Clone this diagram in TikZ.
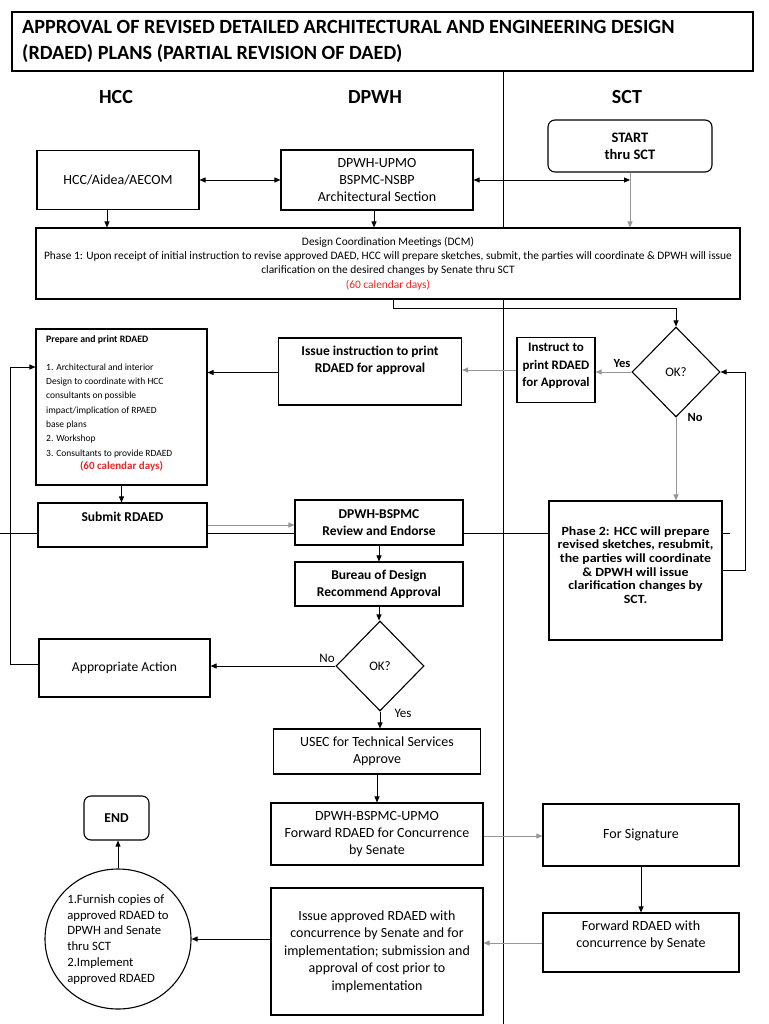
\documentclass[tikz,border=0pt]{standalone}
\usepackage{fontspec}
\setmainfont{Carlito}
\newfontfamily\widefont{Carlito}[FakeStretch=1.11]
\usetikzlibrary{shapes.geometric,arrows.meta}
\definecolor{redt}{RGB}{235,40,40}
\definecolor{gline}{RGB}{150,150,150}
\newcommand\myfs[2]{\fontsize{#1}{#2}\selectfont}
\tikzset{
  ln/.style={draw=black, line width=0.9pt},
  bx/.style={draw=black, line width=1.1pt, fill=white, inner sep=0pt, align=center, font=\myfs{14}{17}},
  bxb/.style={bx, font=\bfseries\myfs{13.5}{17}},
  rbx/.style={bx, rounded corners=7pt},
  dia/.style={draw=black, line width=1.1pt, fill=white, diamond, inner sep=0pt, font=\myfs{13}{15}},
  ell/.style={draw=black, line width=1.1pt, fill=white, ellipse, inner sep=0pt},
  txt/.style={inner sep=0pt, align=center, font=\myfs{14}{17}},
  txtb/.style={txt, font=\bfseries\myfs{13.5}{17}},
  hdr/.style={inner sep=0pt, font=\bfseries\myfs{20}{22}},
  arr/.style={-{Triangle[length=6pt,width=5pt]}, line width=0.9pt, draw=black},
  darr/.style={{Triangle[length=6pt,width=5pt]}-{Triangle[length=6pt,width=5pt]}, line width=0.9pt, draw=black},
  garr/.style={arr, draw=gline},
  lbl/.style={inner sep=0pt, font=\myfs{13}{15}},
}
\begin{document}
\begin{tikzpicture}[x=1pt,y=-1pt]
\useasboundingbox (0,0) rectangle (768,1024);
\fill[white] (0,0) rectangle (768,1024);
% background lines
\coordinate (dv0) at (503,71);
\coordinate (dv1) at (503,1024);
\draw[ln] (dv0) -- (dv1);
\coordinate (hl0) at (0,533);
\coordinate (hl1) at (730,533);
\draw[ln] (hl0) -- (hl1);

% title
\node[bx, minimum width=741, minimum height=59] (title) at (382.5,41.5) {};
\node[inner sep=0pt, anchor=west, font=\bfseries\myfs{20.2}{22}] (t1) at (22,27) {APPROVAL OF REVISED DETAILED ARCHITECTURAL AND ENGINEERING DESIGN};
\node[inner sep=0pt, anchor=west, font=\bfseries\myfs{20.2}{22}] (t2) at (22,54) {(RDAED) PLANS (PARTIAL REVISION OF DAED)};

% headers
\node[hdr] (hHCC) at (116,97) {HCC};
\node[hdr] (hDPWH) at (375,97) {DPWH};
\node[hdr] (hSCT) at (627,97) {SCT};

% top row
\node[rbx, font=\bfseries\myfs{14.5}{17}, minimum width=164, minimum height=52] (start) at (630,146) {START\\thru SCT};
\node[bx, minimum width=162, minimum height=59] (hcc) at (118,180) {HCC/Aidea/AECOM};
\node[bx, minimum width=192, minimum height=60] (upmo) at (377,180) {DPWH-UPMO\\BSPMC-NSBP\\Architectural Section};

% DCM
\node[bx, minimum width=704, minimum height=71, font=\myfs{11.4}{14.4}] (dcm) at (388,263.5) {Design Coordination Meetings (DCM)\\
Phase 1: Upon receipt of initial instruction to revise approved DAED, HCC will prepare sketches, submit, the parties will coordinate \& DPWH will issue\\
clarification on the desired changes by Senate thru SCT\\
\textcolor{redt}{(60 calendar days)}};

% second row
\node[dia, minimum width=88, minimum height=90] (ok1) at (676,372) {OK?};
\node[bx, minimum width=78, minimum height=65] (instr) at (556,370) {};
\node[txtb, font=\bfseries\myfs{13}{17.5}] (instrt) at (556,366) {Instruct to\\print RDAED\\for Approval};
\node[bx, minimum width=183, minimum height=67] (issue) at (370,371.5) {};
\node[txtb] (issuet) at (370,360.5) {Issue instruction to print\\RDAED for approval};
\node[bx, minimum width=171, minimum height=156] (prep) at (121.5,407) {};
\node[inner sep=0pt, anchor=west, font=\bfseries\myfs{9.8}{10}] (prept1) at (46,340) {Prepare and print RDAED};
\node[inner sep=0pt, anchor=north west, align=left, font=\myfs{9.5}{14.3}] (prept2) at (46,363.5) {1. Architectural and interior\\Design to coordinate with HCC\\consultants on possible\\impact/implication of RPAED\\base plans\\2. Workshop\\3. Consultants to provide RDAED};
\node[inner sep=0pt, font=\bfseries\myfs{11}{12}, text=redt] (prept3) at (121.5,466) {(60 calendar days)};

% phase 2
\node[bx, minimum width=173, minimum height=139] (phase2) at (635.5,570.5) {};
\node[txtb, font=\widefont\bfseries\myfs{12.5}{13.7}] (phase2t) at (635.5,565) {Phase 2: HCC will prepare\\revised sketches, resubmit,\\the parties will coordinate\\\& DPWH will issue\\clarification changes by\\SCT.};

% submit row
\node[bx, minimum width=169, minimum height=44] (submit) at (122.5,525) {};
\node[txtb] (submitt) at (122.5,517) {Submit RDAED};
\node[bxb, minimum width=168, minimum height=45] (review) at (379,522.5) {DPWH-BSPMC\\Review and Endorse};
\node[bxb, minimum width=168, minimum height=44] (bureau) at (379,584) {Bureau of Design\\Recommend Approval};

% decision 2
\node[dia, minimum width=88, minimum height=90] (ok2) at (380,666) {OK?};
\node[bx, font=\myfs{13.6}{17}, minimum width=171, minimum height=58] (approp) at (124.5,668) {Appropriate Action};

% lower part
\node[bx, minimum width=207, minimum height=45] (usec) at (377,751.5) {USEC for Technical Services\\Approve};
\node[bx, minimum width=212, minimum height=62] (fwd1) at (377,834) {DPWH-BSPMC-UPMO\\Forward RDAED for Concurrence\\by Senate};
\node[bx, minimum width=196, minimum height=62] (sig) at (641,835) {For Signature};
\node[bx, minimum width=196, minimum height=59] (fwd2) at (641,942.5) {};
\node[txt] (fwd2t) at (641,935) {Forward RDAED with\\concurrence by Senate};
\node[bx, font=\myfs{14}{17.5}, minimum width=212, minimum height=127] (issue2) at (377,951.5) {Issue approved RDAED with\\concurrence by Senate and for\\implementation; submission and\\approval of cost prior to\\implementation};
\node[ell, minimum width=146, minimum height=140] (ell) at (118,939) {};
\node[txt, align=left, font=\myfs{12.7}{15.8}] (ellt) at (118,939.5) {1.Furnish copies of\\approved RDAED to\\DPWH and Senate\\thru SCT\\2.Implement\\approved RDAED};
\node[rbx, font=\bfseries\myfs{13.6}{17}, minimum width=65, minimum height=44] (endb) at (116.5,818) {END};

% connectors top
\draw[darr] (hcc.east) -- (upmo.west);
\draw[darr] (upmo.east) -- (upmo.east -| start.south);
\draw[garr] (start.south) -- (start.south |- dcm.north);
\draw[arr] ([xshift=-11pt]hcc.south) -- ([xshift=-11pt]hcc.south |- dcm.north);
\draw[arr] ([xshift=-3pt]upmo.south) -- ([xshift=-3pt]upmo.south |- dcm.north);
\draw[arr] ([xshift=5pt]dcm.south) -- ++(0,9) -| (ok1.north);

% second row connectors
\draw[garr] (ok1.west) -- (ok1.west -| instr.east);
\node[lbl, font=\bfseries\myfs{12.5}{15}] (yes1) at (622,363) {Yes};
\draw[garr] (instr.west) -- (instr.west -| issue.east);
\draw[arr] ([yshift=-1pt]issue.west) -- ([yshift=-1pt]issue.west -| prep.east);
\draw[garr] (ok1.south) -- (ok1.south |- phase2.north);
\node[lbl, font=\bfseries\myfs{12.5}{15}] (no1) at (695,417) {No};
\draw[arr] (phase2.east) -- ++(23,0) |- (ok1.east);

% submit row connectors
\draw[arr] (prep.south) -- (prep.south |- submit.north);
\draw[garr] (submit.east) -- (submit.east -| review.west);
\draw[arr] (review.south) -- (review.south |- bureau.north);
\draw[arr] (bureau.south) -- (bureau.south |- ok2.north);

% decision 2 connectors
\draw[arr] (ok2.west) -- (ok2.west -| approp.east);
\node[lbl] (no2) at (327,658) {No};
\draw[arr] ([yshift=4pt]approp.west) -- ++(-28,0) |- ([yshift=40pt]prep.west);
\draw[arr] (ok2.south) -- (ok2.south |- usec.north);
\node[lbl] (yes2) at (403,713) {Yes};

% lower connectors
\draw[arr] (usec.south) -- (usec.south |- fwd1.north);
\draw[garr] ([yshift=-2pt]fwd1.east) -- ([yshift=-2pt]fwd1.east -| sig.west);
\draw[arr] (sig.south) -- (sig.south |- fwd2.north);
\draw[garr] ([yshift=-0.5pt]fwd2.west) -- ([yshift=-0.5pt]fwd2.west -| issue2.east);
\draw[arr] (ell.east -| issue2.west) -- (ell.east);
\draw[arr] (ell.north) -- (ell.north |- endb.south);
\end{tikzpicture}
\end{document}
